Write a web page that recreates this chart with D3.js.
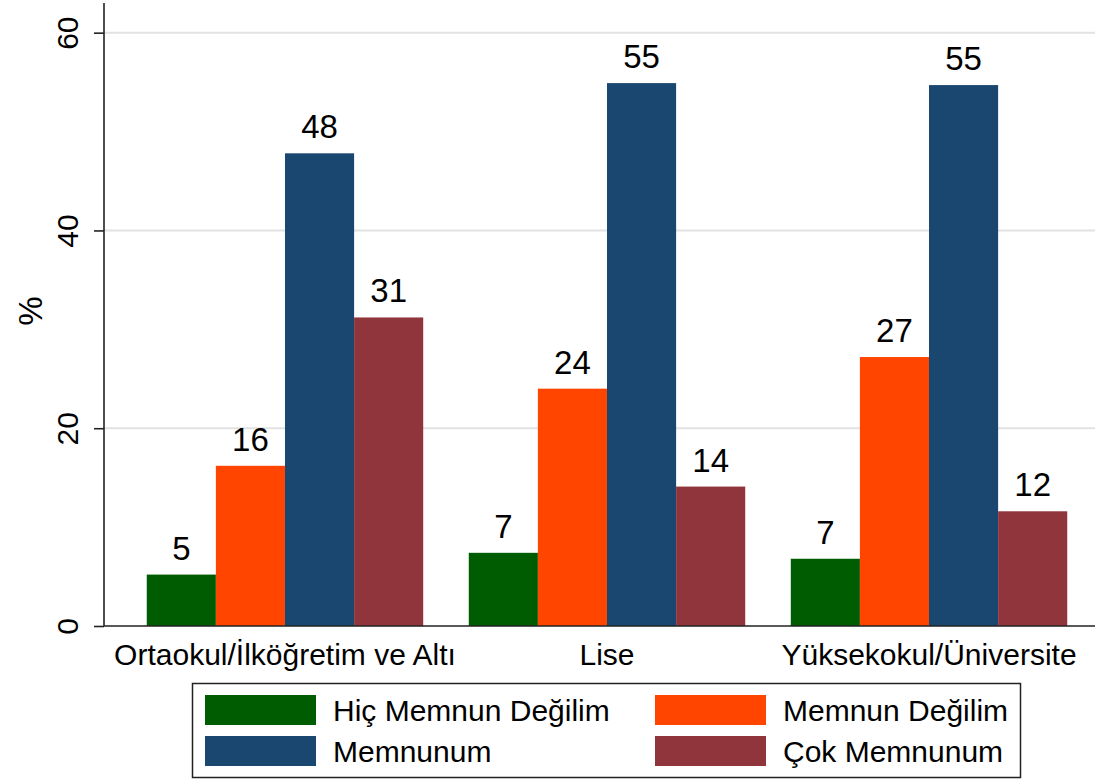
<!DOCTYPE html>
<html>
<head>
<meta charset="utf-8">
<script src="https://cdn.jsdelivr.net/npm/d3@7"></script>
<style>
  html, body { margin: 0; padding: 0; background: #ffffff; }
  text { font-family: "Liberation Sans", Arial, Helvetica, sans-serif; }
</style>
</head>
<body>
<svg id="chart" width="1095" height="779"></svg>
<script>
// ---- data ----
const categories = ["Ortaokul/İlköğretim ve Altı", "Lise", "Yüksekokul/Üniversite"];
const seriesNames = ["Hiç Memnun Değilim", "Memnun Değilim", "Memnunum", "Çok Memnunum"];
const hicMemnunDegilim = [5.2, 7.4, 6.8];
const memnunDegilim = [16.2, 24.0, 27.2];
const memnunum = [47.8, 54.9, 54.7];
const cokMemnunum = [31.2, 14.1, 11.6];
const seriesColors = ["#005c00", "#ff4500", "#1a476f", "#90353b"];
const yTicks = [0, 20, 40, 60];

const seriesValues = [hicMemnunDegilim, memnunDegilim, memnunum, cokMemnunum];
const table = categories.map((c, i) => ({
  category: c,
  values: seriesNames.map((s, j) => ({ series: s, value: seriesValues[j][i], color: seriesColors[j] }))
}));

// ---- layout ----
const svg = d3.select("#chart");
const axisX = 104, axisY = 626, plotRight = 1095, plotTop = 3;
const fs = 30, fsVal = 33;

const y = d3.scaleLinear().domain([0, 63]).range([axisY, plotTop]);
const x0 = d3.scaleBand().domain(categories).range([124, 1090])
  .paddingInner(0.1415).paddingOuter(0.0707);
const x1 = d3.scaleBand().domain(seriesNames).range([0, x0.bandwidth()]).padding(0);

// gridlines
svg.append("g").selectAll("line").data(yTicks.filter(d => d > 0)).join("line")
  .attr("x1", axisX).attr("x2", plotRight)
  .attr("y1", d => y(d)).attr("y2", d => y(d))
  .attr("stroke", "#e2e2e2").attr("stroke-width", 2);

// bars
const groups = svg.append("g").selectAll("g").data(table).join("g")
  .attr("transform", d => `translate(${x0(d.category)},0)`);
groups.selectAll("rect").data(d => d.values).join("rect")
  .attr("x", d => x1(d.series))
  .attr("width", x1.bandwidth())
  .attr("y", d => y(d.value))
  .attr("height", d => axisY - y(d.value))
  .attr("fill", d => d.color);

// value labels
groups.selectAll("text").data(d => d.values).join("text")
  .attr("x", d => x1(d.series) + x1.bandwidth() / 2)
  .attr("y", d => y(d.value) - 15)
  .attr("text-anchor", "middle")
  .attr("font-size", fsVal)
  .attr("fill", "#000")
  .text(d => d3.format(".0f")(d.value));

// y axis
const yAxis = d3.axisLeft(y).tickValues(yTicks).tickSize(10).tickFormat(d3.format("d"));
const yg = svg.append("g").attr("transform", `translate(${axisX},0)`).call(yAxis);
yg.select(".domain").attr("d", `M0,${plotTop}V${axisY}`).attr("stroke", "#222").attr("stroke-width", 1.6);
yg.selectAll(".tick line").attr("stroke", "#222").attr("stroke-width", 1.6);
yg.selectAll(".tick text")
  .attr("font-size", fs).attr("font-family", "Liberation Sans, Arial, sans-serif")
  .attr("fill", "#000")
  .attr("transform", "rotate(-90)")
  .attr("x", 0).attr("y", -26).attr("dy", "0")
  .attr("text-anchor", "middle");

// x axis
const xAxis = d3.axisBottom(x0).tickSize(0).tickPadding(0);
const xg = svg.append("g").attr("transform", `translate(0,${axisY})`).call(xAxis);
xg.select(".domain").attr("d", `M${axisX},0H${plotRight}`).attr("stroke", "#222").attr("stroke-width", 1.6);
xg.selectAll(".tick text")
  .attr("font-size", fs).attr("font-family", "Liberation Sans, Arial, sans-serif")
  .attr("fill", "#000").attr("y", 39).attr("dy", "0");

// y axis title
svg.append("text")
  .attr("transform", `translate(42,311) rotate(-90)`)
  .attr("text-anchor", "middle")
  .attr("font-size", 33)
  .text("%");

// legend
const lg = svg.append("g");
lg.append("rect").attr("x", 192.5).attr("y", 683.5).attr("width", 828).attr("height", 94)
  .attr("fill", "#fff").attr("stroke", "#222").attr("stroke-width", 1.5);
const legendPos = [[205, 695], [655, 695], [205, 736], [655, 736]];
const items = lg.selectAll("g.item").data(seriesNames).join("g").attr("class", "item")
  .attr("transform", (d, i) => `translate(${legendPos[i][0]},${legendPos[i][1]})`);
items.append("rect").attr("width", 111).attr("height", 30).attr("fill", (d, i) => seriesColors[i]);
items.append("text").attr("x", 128).attr("y", 26).attr("font-size", fs).attr("fill", "#000").text(d => d);
</script>
</body>
</html>
